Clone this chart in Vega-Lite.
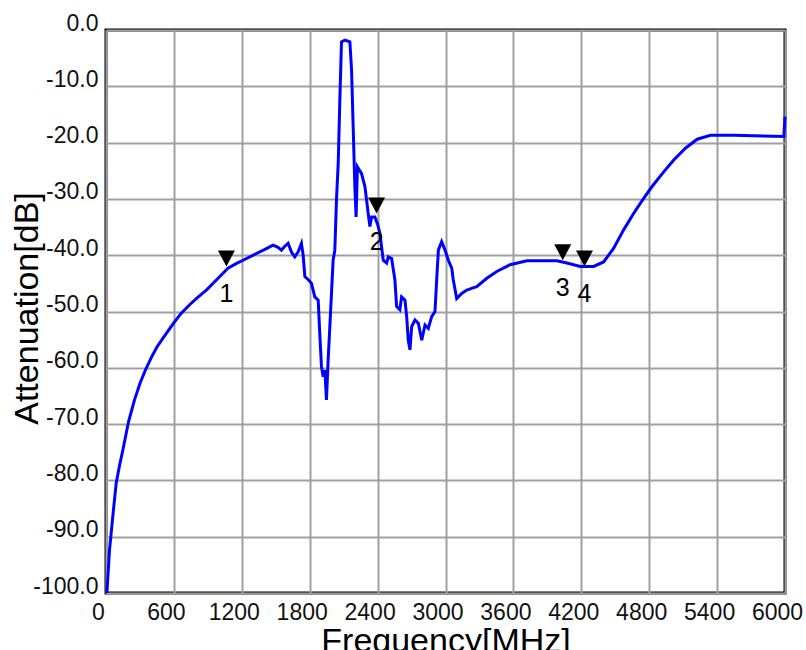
{
  "$schema": "https://vega.github.io/schema/vega-lite/v6.json",
  "width": 679,
  "height": 563,
  "autosize": {"type": "none"},
  "padding": {"left": 106, "top": 30, "right": 21, "bottom": 57},
  "background": "white",
  "config": {
    "view": {"stroke": "black", "strokeWidth": 3},
    "font": "Liberation Sans",
    "axis": {
      "gridColor": "#a0a0a0",
      "gridWidth": 2,
      "gridOpacity": 1,
      "ticks": false,
      "domain": false,
      "labelFont": "Liberation Sans",
      "labelFontSize": 23,
      "labelColor": "#111",
      "titleFont": "Liberation Sans",
      "titleFontSize": 34,
      "titleFontWeight": "normal",
      "titleColor": "black"
    }
  },
  "datasets": {
    "curve": [
      {"f": 8, "a": -100}, {"f": 31, "a": -92.4}, {"f": 60, "a": -86.4}, {"f": 90, "a": -80.5},
      {"f": 120, "a": -77.3}, {"f": 149, "a": -74.6}, {"f": 200, "a": -69.5}, {"f": 252, "a": -65.7},
      {"f": 300, "a": -62.8}, {"f": 350, "a": -60.3}, {"f": 400, "a": -58.2}, {"f": 450, "a": -56.3},
      {"f": 533, "a": -53.9}, {"f": 600, "a": -52.0},
      {"f": 665, "a": -50.3}, {"f": 739, "a": -48.8}, {"f": 810, "a": -47.5}, {"f": 887, "a": -46.2},
      {"f": 975, "a": -44.4}, {"f": 1078, "a": -42.3}, {"f": 1150, "a": -41.5}, {"f": 1211, "a": -40.9},
      {"f": 1329, "a": -39.7}, {"f": 1400, "a": -39.0}, {"f": 1476, "a": -38.2}, {"f": 1520, "a": -38.6},
      {"f": 1550, "a": -39.1}, {"f": 1580, "a": -38.4}, {"f": 1609, "a": -37.9}, {"f": 1640, "a": -39.5},
      {"f": 1668, "a": -40.3}, {"f": 1698, "a": -39.4}, {"f": 1727, "a": -37.9}, {"f": 1742, "a": -40.0},
      {"f": 1757, "a": -43.8}, {"f": 1790, "a": -44.4}, {"f": 1816, "a": -45.0}, {"f": 1845, "a": -47.4},
      {"f": 1875, "a": -48.0}, {"f": 1889, "a": -53.9}, {"f": 1904, "a": -59.8}, {"f": 1919, "a": -61.6},
      {"f": 1934, "a": -60.4}, {"f": 1948, "a": -65.7}, {"f": 1963, "a": -58.6}, {"f": 1978, "a": -52.7},
      {"f": 2007, "a": -40.9}, {"f": 2022, "a": -39.1}, {"f": 2037, "a": -30.0}, {"f": 2052, "a": -23.7},
      {"f": 2066, "a": -12.7}, {"f": 2081, "a": -2.1}, {"f": 2111, "a": -1.8}, {"f": 2155, "a": -2.1},
      {"f": 2170, "a": -7.1}, {"f": 2185, "a": -17.8}, {"f": 2199, "a": -27.8}, {"f": 2210, "a": -33.2},
      {"f": 2222, "a": -24.3}, {"f": 2258, "a": -25.5}, {"f": 2288, "a": -27.8}, {"f": 2317, "a": -32.6},
      {"f": 2332, "a": -34.9}, {"f": 2347, "a": -33.2}, {"f": 2376, "a": -33.2}, {"f": 2400, "a": -34.5},
      {"f": 2420, "a": -36.1}, {"f": 2450, "a": -40.9}, {"f": 2480, "a": -41.4}, {"f": 2494, "a": -40.3},
      {"f": 2524, "a": -40.6}, {"f": 2553, "a": -44.4}, {"f": 2568, "a": -49.1}, {"f": 2597, "a": -49.7},
      {"f": 2612, "a": -47.4}, {"f": 2642, "a": -48.0}, {"f": 2657, "a": -50.9}, {"f": 2671, "a": -55.1},
      {"f": 2686, "a": -56.8}, {"f": 2701, "a": -52.7}, {"f": 2730, "a": -51.5}, {"f": 2760, "a": -52.1},
      {"f": 2790, "a": -55.1}, {"f": 2819, "a": -52.4}, {"f": 2848, "a": -53.0}, {"f": 2878, "a": -50.9},
      {"f": 2907, "a": -50.0}, {"f": 2922, "a": -44.4}, {"f": 2937, "a": -39.1}, {"f": 2966, "a": -37.6},
      {"f": 2996, "a": -39.1}, {"f": 3025, "a": -40.9}, {"f": 3055, "a": -42.3}, {"f": 3069, "a": -44.4},
      {"f": 3099, "a": -47.7}, {"f": 3143, "a": -46.8}, {"f": 3188, "a": -46.2}, {"f": 3230, "a": -45.9},
      {"f": 3276, "a": -45.6}, {"f": 3365, "a": -44.1}, {"f": 3453, "a": -42.9}, {"f": 3571, "a": -41.7},
      {"f": 3719, "a": -41.0}, {"f": 3866, "a": -41.0}, {"f": 3984, "a": -41.0}, {"f": 4073, "a": -41.4},
      {"f": 4191, "a": -42.0}, {"f": 4309, "a": -42.0}, {"f": 4397, "a": -41.2}, {"f": 4485, "a": -38.8},
      {"f": 4574, "a": -35.5}, {"f": 4662, "a": -32.6}, {"f": 4751, "a": -29.9}, {"f": 4825, "a": -27.8},
      {"f": 4928, "a": -25.2}, {"f": 5017, "a": -23.1}, {"f": 5120, "a": -21.0}, {"f": 5224, "a": -19.4},
      {"f": 5342, "a": -18.7}, {"f": 5548, "a": -18.7}, {"f": 5725, "a": -18.8}, {"f": 5990, "a": -18.9},
      {"f": 6000, "a": -15.4}
    ],
    "markers": [
      {"n": "1", "f": 1064, "a": -42.0},
      {"n": "2", "f": 2391, "a": -32.6},
      {"n": "3", "f": 4036, "a": -40.9},
      {"n": "4", "f": 4228, "a": -42.0}
    ]
  },
  "encoding": {
    "x": {
      "field": "f", "type": "quantitative",
      "scale": {"domain": [0, 6000], "nice": false, "zero": false},
      "axis": {
        "title": "Frequency[MHz]",
        "values": [0, 600, 1200, 1800, 2400, 3000, 3600, 4200, 4800, 5400, 6000],
        "format": "d",
        "labelOffset": -8,
        "labelPadding": 8,
        "labelBaseline": "top",
        "labelFlush": false,
        "labelOverlap": false,
        "titleY": 58,
        "titleBaseline": "alphabetic"
      }
    },
    "y": {
      "field": "a", "type": "quantitative",
      "scale": {"domain": [-100, 0], "nice": false, "zero": false},
      "axis": {
        "title": "Attenuation[dB]",
        "values": [-100, -90, -80, -70, -60, -50, -40, -30, -20, -10, 0],
        "labelExpr": "datum.value == 0 ? '0.0' : '-' + format(-datum.value, '.1f')",
        "labelPadding": 8,
        "labelBaseline": "alphabetic",
        "labelFlush": false,
        "labelOverlap": false,
        "titleX": -79,
        "titleY": 278,
        "titleAngle": 270,
        "titleAlign": "center",
        "titleBaseline": "middle"
      }
    }
  },
  "layer": [
    {
      "data": {"name": "curve"},
      "mark": {"type": "line", "color": "#0000ff", "strokeWidth": 3, "interpolate": "linear"},
      "encoding": {}
    },
    {
      "data": {"name": "markers"},
      "mark": {
        "type": "point", "filled": true, "color": "black", "opacity": 1,
        "shape": "M-1,-0.95L1,-0.95L0,0.95Z", "size": 289, "yOffset": -8
      },
      "encoding": {}
    },
    {
      "data": {"name": "markers"},
      "mark": {
        "type": "text", "color": "black", "fontSize": 25, "font": "Liberation Sans",
        "baseline": "middle", "align": "center", "dy": 28
      },
      "encoding": {"text": {"field": "n"}}
    }
  ]
}
